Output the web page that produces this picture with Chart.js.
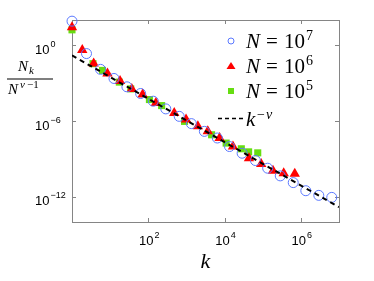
<!DOCTYPE html>
<html lang="en">
<head>
<meta charset="utf-8">
<script src="https://cdn.jsdelivr.net/npm/chart.js/dist/chart.umd.min.js"></script>
<style>
  html, body { margin: 0; padding: 0; background: #fff; }
  #box { position: relative; width: 374px; height: 281px; }
</style>
</head>
<body>
<div id="box"><canvas id="plot"></canvas></div>
<script>
// N = 10^7 (blue circles)
const k7 = [1, 2.4, 5.6, 12.6, 27.5, 63, 135, 288, 646, 1349, 2951, 6457, 13490, 28840, 64570, 134900, 288400, 631000, 1349000, 2951000, 6457000];
const n7 = [81, 0.219, 1.23e-2, 2.34e-3, 5.1e-4, 1.51e-4, 3.7e-5, 9.1e-6, 2.34e-6, 6.2e-7, 1.51e-7, 4.5e-8, 9.5e-9, 2.8e-9, 7.4e-10, 1.82e-10, 4.5e-11, 1.32e-11, 3.0e-12, 1.29e-12, 8.9e-13];
// N = 10^6 (red triangles)
const k6 = [1, 1.86, 3.7, 8.5, 18.2, 37, 71, 158, 479, 977, 1995, 3630, 7410, 16600, 43650, 91200, 186000, 355000, 692000];
const n6 = [26.9, 0.427, 3.55e-2, 5.9e-3, 1.45e-3, 3.5e-4, 1.26e-4, 2.7e-5, 4.4e-6, 1.29e-6, 3.8e-7, 1.51e-7, 4.5e-8, 9.5e-9, 1.12e-9, 4.0e-10, 1.17e-10, 7.2e-11, 6.5e-11];
// N = 10^5 (green squares)
const k5 = [1, 3.55, 6.3, 17.4, 34.7, 107, 224, 891, 4570, 11000, 27500, 42700, 74100];
const n5 = [16.6, 3.47e-2, 1.02e-2, 1.2e-3, 3.5e-4, 5.0e-5, 1.66e-5, 9.3e-7, 8.1e-8, 1.78e-8, 6.3e-9, 3.6e-9, 3.0e-9];
// k^-nu reference line (end points)
const lineK = [1, 1e7];
const lineN = [0.158, 1.51e-13];

const xTicks = [1e2, 1e4, 1e6];
const xTickExp = ['2', '4', '6'];
const yTicks = [1e0, 1e-6, 1e-12];
const yTickExp = ['0', '\u22126', '\u221212'];
const legendExp = ['7', '6', '5'];

const pts = (ks, ns) => ks.map((k, i) => ({x: k, y: ns[i]}));

// "10" with a raised exponent
function power(ctx, exp, x, y, align) {
  ctx.font = '13px "Liberation Sans", Arial, sans-serif';
  const w1 = ctx.measureText('10').width;
  ctx.font = '9px "Liberation Sans", Arial, sans-serif';
  const w2 = ctx.measureText(exp).width;
  let x0 = x;
  if (align === 'center') x0 = x - (w1 + w2 + 1) / 2;
  ctx.textAlign = 'left';
  ctx.textBaseline = 'alphabetic';
  ctx.font = '13px "Liberation Sans", Arial, sans-serif';
  ctx.fillText('10', x0, y);
  ctx.font = '9px "Liberation Sans", Arial, sans-serif';
  ctx.fillText(exp, x0 + w1 + 1, y - 7);
}

const frame = {
  id: 'frame',
  beforeDatasetsDraw(chart) {
    const {ctx, chartArea: a, scales: {x, y}} = chart;
    ctx.save();
    ctx.strokeStyle = '#858585';
    ctx.lineWidth = 1;
    ctx.strokeRect(Math.round(a.left) + 0.5, Math.round(a.top) + 0.5,
                   Math.round(a.right - a.left), Math.round(a.bottom - a.top));
    ctx.beginPath();
    xTicks.forEach(v => {
      const px = Math.round(x.getPixelForValue(v)) + 0.5;
      ctx.moveTo(px, a.bottom); ctx.lineTo(px, a.bottom - 4);
      ctx.moveTo(px, a.top); ctx.lineTo(px, a.top + 4);
    });
    yTicks.forEach(v => {
      const py = Math.round(y.getPixelForValue(v)) + 0.5;
      ctx.moveTo(a.left, py); ctx.lineTo(a.left + 4, py);
      ctx.moveTo(a.right, py); ctx.lineTo(a.right - 4, py);
    });
    ctx.stroke();
    ctx.restore();
  },
  afterDraw(chart) {
    const {ctx, chartArea: a, scales: {x, y}} = chart;
    ctx.save();
    ctx.fillStyle = '#000';
    // tick labels
    xTicks.forEach((v, i) => power(ctx, xTickExp[i], x.getPixelForValue(v) + 1, 245, 'center'));
    yTicks.forEach((v, i) => power(ctx, yTickExp[i], 35, y.getPixelForValue(v) + 8.5, 'left'));

    // x title
    ctx.font = 'italic 22px "Liberation Serif", serif';
    ctx.textAlign = 'center';
    ctx.fillText('k', (a.left + a.right) / 2, 268);

    // y title: N_k / N^(nu-1)
    ctx.textAlign = 'left';
    ctx.font = 'italic 15px "Liberation Serif", serif';
    ctx.fillText('N', 18, 71);
    ctx.font = 'italic 11px "Liberation Serif", serif';
    ctx.fillText('k', 29, 74);
    ctx.fillRect(7, 78.5, 46, 1);
    ctx.font = 'italic 15px "Liberation Serif", serif';
    ctx.fillText('N', 8, 94);
    ctx.font = 'italic 11px "Liberation Serif", serif';
    ctx.fillText('\u03bd', 20, 88);
    ctx.font = '11px "Liberation Serif", serif';
    ctx.fillText('\u22121', 27, 88);

    // legend
    const rows = [41, 66, 91];
    ctx.strokeStyle = '#5a78ff';
    ctx.lineWidth = 1;
    ctx.beginPath(); ctx.arc(231, rows[0], 3, 0, Math.PI * 2); ctx.stroke();
    ctx.fillStyle = '#ff0000';
    ctx.beginPath();
    ctx.moveTo(231, rows[1] - 4); ctx.lineTo(235.5, rows[1] + 3); ctx.lineTo(226.5, rows[1] + 3);
    ctx.closePath(); ctx.fill();
    ctx.fillStyle = '#66dd11';
    ctx.fillRect(228, rows[2] - 3, 6, 6);
    ctx.fillStyle = '#000';
    rows.forEach((ry, i) => {
      const base = ry + 7;
      ctx.font = 'italic 21px "Liberation Serif", serif';
      ctx.fillText('N', 246, base);
      ctx.font = '21px "Liberation Serif", serif';
      ctx.fillText('=', 266, base);
      ctx.fillText('10', 284, base);
      const w = ctx.measureText('10').width;
      ctx.font = '14px "Liberation Serif", serif';
      ctx.fillText(legendExp[i], 284 + w + 1, base - 8);
    });
    ctx.strokeStyle = '#000';
    ctx.lineWidth = 1.5;
    ctx.setLineDash([4, 3]);
    ctx.beginPath(); ctx.moveTo(218, 118.5); ctx.lineTo(245, 118.5); ctx.stroke();
    ctx.setLineDash([]);
    ctx.font = 'italic 21px "Liberation Serif", serif';
    ctx.fillText('k', 246, 126);
    ctx.font = '14px "Liberation Serif", serif';
    ctx.fillText('\u2212', 257, 119);
    ctx.font = 'italic 14px "Liberation Serif", serif';
    ctx.fillText('\u03bd', 266, 119);
    ctx.restore();
  }
};

new Chart(document.getElementById('plot'), {
  type: 'scatter',
  data: {
    datasets: [
      {
        label: 'k^-nu',
        data: pts(lineK, lineN),
        showLine: true,
        borderColor: '#000',
        borderWidth: 2,
        borderDash: [5, 4],
        pointRadius: 0,
        order: 0
      },
      {
        label: 'N = 10^7',
        data: pts(k7, n7),
        pointStyle: 'circle',
        pointRadius: 5,
        borderColor: '#5a78ff',
        backgroundColor: 'rgba(255,255,255,0)',
        pointBorderWidth: 1,
        order: 1,
        clip: false
      },
      {
        label: 'N = 10^6',
        data: pts(k6, n6),
        pointStyle: 'triangle',
        pointRadius: 6,
        borderWidth: 0,
        pointBorderWidth: 0,
        backgroundColor: '#ff0000',
        borderColor: '#ff0000',
        order: 2,
        clip: false
      },
      {
        label: 'N = 10^5',
        data: pts(k5, n5),
        pointStyle: 'rect',
        pointRadius: 5,
        pointBorderWidth: 0,
        backgroundColor: '#66dd11',
        borderColor: '#66dd11',
        order: 3,
        clip: false
      }
    ]
  },
  options: {
    responsive: true,
    maintainAspectRatio: false,
    animation: false,
    devicePixelRatio: 1,
    layout: { padding: { top: 20, right: 35, left: 0, bottom: 0 } },
    plugins: { legend: { display: false }, tooltip: { enabled: false } },
    scales: {
      x: {
        type: 'logarithmic', min: 1, max: 1e7,
        ticks: { display: false }, grid: { display: false }, border: { display: false },
        afterFit: s => { s.height = 59; }
      },
      y: {
        type: 'logarithmic', min: 1e-14, max: 1e2,
        ticks: { display: false }, grid: { display: false }, border: { display: false },
        afterFit: s => { s.width = 72; }
      }
    }
  },
  plugins: [frame]
});
</script>
</body>
</html>
